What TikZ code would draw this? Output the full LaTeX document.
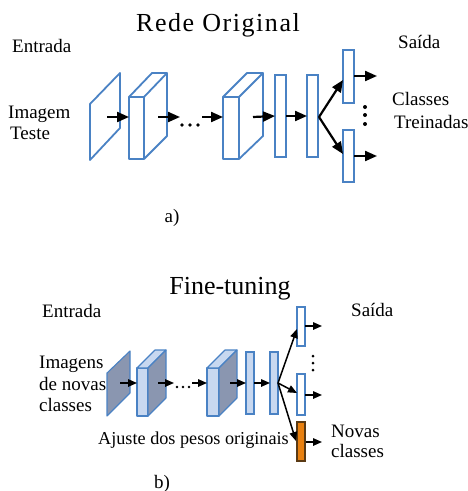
\documentclass[tikz,border=0pt]{standalone}
\usepackage{fontspec}
\setmainfont{Liberation Serif}
\usetikzlibrary{arrows.meta}
\definecolor{lblue}{RGB}{74,130,196}
\definecolor{pale}{RGB}{200,216,240}
\definecolor{slate}{RGB}{138,150,176}
\definecolor{orng}{RGB}{232,128,16}
\definecolor{obrd}{RGB}{90,58,20}
\tikzset{
  txt/.style={inner sep=0pt, anchor=base west, font=\fontsize{19}{21}\selectfont},
  ttl/.style={inner sep=0pt, anchor=base, font=\fontsize{26}{28}\selectfont},
  topbox/.style={draw=lblue, line width=1.8pt, fill=white, inner sep=0pt, outer sep=0pt},
  botbox/.style={draw=lblue, line width=1.1pt, inner sep=0pt, outer sep=0pt},
  toparr/.style={line width=2.2pt, arrows={-Triangle[length=12pt,width=10pt]}},
  botarr/.style={line width=1.5pt, arrows={-Triangle[length=9pt,width=7.5pt]}},
}
\begin{document}
\begin{tikzpicture}[x=1pt,y=-1pt]
\useasboundingbox (0,0) rectangle (467,491);
% ---------------- a) ----------------
\node[ttl] (t1) at (218,31) {\addfontfeature{LetterSpace=6}Rede Original};
\node[txt] (e1) at (12,52) {Entrada};
\node[txt] (s1) at (398,48) {Saída};
\node[txt] (i1) at (8,118) {Imagem};
\node[txt] (i2) at (10,139) {Teste};
\node[txt] (c1) at (392,105) {Classes};
\node[txt] (c2) at (394,128) {Treinadas};
\node[txt, anchor=base] (la) at (172,222) {a)};
% input plane
\draw[draw=lblue, line width=1.8pt, line join=round] (90,104) -- (120,73) -- (120,128) -- (90,160) -- cycle;
% block 2
\draw[draw=lblue, line width=1.8pt, line join=round] (129,97) rectangle (144,159);
\draw[draw=lblue, line width=1.8pt, line join=round] (129,97) -- (152,73) -- (167,73) -- (144,97);
\draw[draw=lblue, line width=1.8pt, line join=round] (167,73) -- (167,136) -- (144,159);
% block 3
\draw[draw=lblue, line width=1.8pt, line join=round] (223,97) rectangle (239,159);
\draw[draw=lblue, line width=1.8pt, line join=round] (223,97) -- (247,73) -- (263,73) -- (239,97);
\draw[draw=lblue, line width=1.8pt, line join=round] (263,73) -- (263,136) -- (239,159);
% fc layers
\node[topbox, minimum width=11pt, minimum height=82pt] (f1) at (280.5,116) {};
\node[topbox, minimum width=11pt, minimum height=82pt] (f2) at (312.5,116) {};
\node[topbox, minimum width=11pt, minimum height=53pt] (f3) at (348.5,76.5) {};
\node[topbox, minimum width=11pt, minimum height=52pt] (f4) at (348.5,156) {};
% arrows
\coordinate (a1s) at (107,117); \coordinate (a1e) at (129,117);
\coordinate (a2s) at (158,117); \coordinate (a2e) at (180,117);
\coordinate (a3s) at (202,117); \coordinate (a3e) at (223,117);
\coordinate (a4s) at (253,117);
\draw[toparr] (a1s) -- (a1e);
\draw[toparr] (a2s) -- (a2e);
\draw[toparr] (a3s) -- (a3e);
\draw[toparr] (a4s) -- (f1.west);
\draw[toparr] (f1.east) -- (f2.west);
\coordinate (br1) at (319,117);
\draw[toparr] (br1) -- (343,80);
\draw[toparr] (br1) -- (343,154);
\coordinate (o1) at (377,76); \coordinate (o2) at (377,156);
\draw[toparr] (f3.east |- o1) -- (o1);
\draw[toparr] (f4.east |- o2) -- (o2);
\foreach \x in {182,190,198} \fill (\x,125) circle (1.9);
\foreach \y in {107,115,124} \fill (365,\y) circle (2);
% ---------------- b) ----------------
\node[ttl] (t2) at (230,294) {Fine-tuning};
\node[txt] (e2) at (42,317) {Entrada};
\node[txt] (s2) at (351,316) {Saída};
\node[txt] (n1) at (39,368) {Imagens};
\node[txt] (n2) at (39,390) {de novas};
\node[txt] (n3) at (39,411) {classes};
\node[txt, font=\fontsize{18.2}{20}\selectfont] (aj) at (98,444) {Ajuste dos pesos originais};
\node[txt] (nv1) at (331,437) {Novas};
\node[txt] (nv2) at (331,457) {classes};
\node[txt, anchor=base] (lb) at (162,488) {b)};
% input plane
\draw[draw=lblue, fill=slate, line width=1.1pt, line join=round] (107,373) -- (130,351) -- (130,393) -- (107,416) -- cycle;
% block 2
\draw[draw=lblue, fill=pale, line width=1.1pt, line join=round] (137,368) rectangle (148,416);
\draw[draw=lblue, fill=pale, line width=1.1pt, line join=round] (137,368) -- (155,350) -- (166,350) -- (148,368) -- cycle;
\draw[draw=lblue, fill=slate, line width=1.1pt, line join=round] (148,368) -- (166,350) -- (166,398) -- (148,416) -- cycle;
% block 3
\draw[draw=lblue, fill=pale, line width=1.1pt, line join=round] (207,368) rectangle (219,416);
\draw[draw=lblue, fill=pale, line width=1.1pt, line join=round] (207,368) -- (225,350) -- (237,350) -- (219,368) -- cycle;
\draw[draw=lblue, fill=slate, line width=1.1pt, line join=round] (219,368) -- (237,350) -- (237,398) -- (219,416) -- cycle;
% fc layers
\node[botbox, fill=pale, minimum width=8pt, minimum height=62pt] (g1) at (250,383) {};
\node[botbox, fill=pale, minimum width=8pt, minimum height=62pt] (g2) at (274,383) {};
\node[botbox, fill=white, minimum width=8pt, minimum height=39pt] (g3) at (301,326.5) {};
\node[botbox, fill=white, minimum width=8pt, minimum height=41pt] (g4) at (301,394.5) {};
\node[draw=obrd, fill=orng, line width=1.1pt, inner sep=0pt, minimum width=8pt, minimum height=39pt] (g5) at (301,441.5) {};
% arrows
\coordinate (b1s) at (120,383); \coordinate (b1e) at (137,383);
\coordinate (b2s) at (158,383); \coordinate (b2e) at (174,383);
\coordinate (b3s) at (192,383); \coordinate (b3e) at (207,383);
\coordinate (b4s) at (230,383);
\draw[botarr] (b1s) -- (b1e);
\draw[botarr] (b2s) -- (b2e);
\draw[botarr] (b3s) -- (b3e);
\draw[botarr] (b4s) -- (g1.west);
\draw[botarr] (g1.east) -- (g2.west);
\coordinate (br2) at (278,383);
\draw[botarr] (br2) -- (297,329);
\draw[botarr] (br2) -- (297,393);
\draw[botarr] (br2) -- (296,441);
\coordinate (p1) at (322,326); \coordinate (p2) at (322,395); \coordinate (p3) at (322,442);
\draw[botarr] (g3.east |- p1) -- (p1);
\draw[botarr] (g4.east |- p2) -- (p2);
\draw[botarr] (g5.east |- p3) -- (p3);
\foreach \x in {177,183,189} \fill (\x,387) circle (1.4);
\foreach \y in {356,363,370} \fill (313,\y) circle (1.5);
\end{tikzpicture}
\end{document}
